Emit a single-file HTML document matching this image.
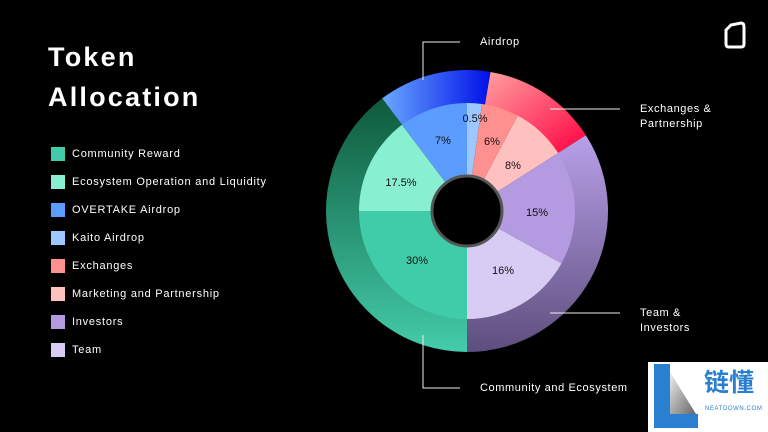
<!DOCTYPE html>
<html><head><meta charset="utf-8"><style>
html,body{margin:0;padding:0;background:#000;}
body{width:768px;height:432px;overflow:hidden;position:relative;font-family:"Liberation Sans",sans-serif;color:#fff;}
.t{position:absolute;left:48px;font-weight:bold;font-size:27px;letter-spacing:2.2px;}
.lg{position:absolute;left:51px;width:14px;height:14px;}
.lt{position:absolute;left:72px;font-size:11px;letter-spacing:0.75px;}
.c{position:absolute;font-size:11px;line-height:15px;letter-spacing:0.6px;}
</style></head><body>
<div class="t" style="top:42px">Token</div>
<div class="t" style="top:82px">Allocation</div>
<div class="lg" style="top:147px;background:#40cca8"></div><div class="lt" style="top:148px">Community Reward</div>
<div class="lg" style="top:175px;background:#88f0d0"></div><div class="lt" style="top:176px">Ecosystem Operation and Liquidity</div>
<div class="lg" style="top:203px;background:#5a9cff"></div><div class="lt" style="top:204px">OVERTAKE Airdrop</div>
<div class="lg" style="top:231px;background:#9cc8ff"></div><div class="lt" style="top:232px">Kaito Airdrop</div>
<div class="lg" style="top:259px;background:#ff9090"></div><div class="lt" style="top:260px">Exchanges</div>
<div class="lg" style="top:287px;background:#ffc0c0"></div><div class="lt" style="top:288px">Marketing and Partnership</div>
<div class="lg" style="top:315px;background:#b49ae0"></div><div class="lt" style="top:316px">Investors</div>
<div class="lg" style="top:343px;background:#d8ccf4"></div><div class="lt" style="top:344px">Team</div>

<svg id="s" width="768" height="432" style="position:absolute;left:0;top:0">
<defs>
<linearGradient id="gb" x1="0" y1="0" x2="1" y2="0"><stop offset="0" stop-color="#6aa8ff"/><stop offset="1" stop-color="#0010e8"/></linearGradient>
<linearGradient id="gr" x1="0" y1="0" x2="1" y2="1"><stop offset="0" stop-color="#ffa0a0"/><stop offset="1" stop-color="#ff0040"/></linearGradient>
<linearGradient id="gp" x1="0" y1="0" x2="0" y2="1"><stop offset="0" stop-color="#b8a0e8"/><stop offset="1" stop-color="#5e4e7e"/></linearGradient>
<linearGradient id="gg" x1="0" y1="0" x2="0" y2="1"><stop offset="0" stop-color="#0e5a3c"/><stop offset="1" stop-color="#44ccaa"/></linearGradient>
<linearGradient id="wm" x1="0" y1="0" x2="1" y2="1"><stop offset="0" stop-color="#eee"/><stop offset="1" stop-color="#666"/></linearGradient>
</defs>
<g id="pie"></g>
<circle cx="467" cy="211" r="35" fill="#000" stroke="#555" stroke-width="3"/>
<g fill="#111" font-size="11" text-anchor="middle" font-family="Liberation Sans,sans-serif">
<text x="475" y="122">0.5%</text>
<text x="492" y="145">6%</text>
<text x="513" y="169">8%</text>
<text x="537" y="216">15%</text>
<text x="503" y="274">16%</text>
<text x="417" y="264">30%</text>
<text x="401" y="186">17.5%</text>
<text x="443" y="144">7%</text>
</g>
<g stroke="#eee" stroke-width="1" fill="none">
<polyline points="423,80 423,42 460,42"/>
<polyline points="550,109 620,109"/>
<polyline points="550,313 620,313"/>
<polyline points="423,335 423,388 460,388"/>
</g>
<path d="M726 30 L731 25 L741 23 Q744 23 744 27 L744 44 Q744 47 741 47 L729 47 Q726 47 726 44 Z" fill="none" stroke="#fff" stroke-width="3"/>
</svg>
<div class="c" style="left:480px;top:35px">Airdrop</div>
<div class="c" style="left:640px;top:102px">Exchanges &amp;<br>Partnership</div>
<div class="c" style="left:640px;top:306px">Team &amp;<br>Investors</div>
<div class="c" style="left:480px;top:381px">Community and Ecosystem</div>

<div style="position:absolute;left:648px;top:362px;width:120px;height:70px;background:#fff;overflow:hidden">
<svg width="60" height="70" style="position:absolute;left:0;top:0">
<polygon points="6,2 22,2 22,52 50,52 50,66 6,66" fill="#2a7fd0"/>
<polygon points="22,10 48,52 22,52" fill="url(#wm)"/>
</svg>
<div style="position:absolute;left:56px;top:4px;font-size:25px;font-weight:bold;color:#2a7fd0;font-family:'Noto Sans CJK SC',sans-serif;line-height:30px">链懂</div>
<div style="position:absolute;left:57px;top:44px;font-size:6px;color:#2a7fd0;letter-spacing:0.6px">NEATDOWN.COM</div>
</div>
<script>
var cx=467,cy=211;
function pt(r,a){a=a*Math.PI/180;return [cx+r*Math.sin(a),cy-r*Math.cos(a)];}
function arc(r0,r1,a0,a1,f){var p1=pt(r1,a0),p2=pt(r1,a1),p3=pt(r0,a1),p4=pt(r0,a0),l=(a1-a0)>180?1:0;
return '<path fill="'+f+'" d="M'+p1+' A'+r1+','+r1+' 0 '+l+' 1 '+p2+' L'+p3+' A'+r0+','+r0+' 0 '+l+' 0 '+p4+'Z"/>';}
var h='';
h+=arc(107,141,-37,9.6,'url(#gb)');
h+=arc(107,141,9.6,57.5,'url(#gr)');
h+=arc(107,141,57.5,180,'url(#gp)');
h+=arc(107,141,180,323,'url(#gg)');
var s=[[0,8,'#9cc8ff'],[8,28,'#ff9090'],[28,57.6,'#ffc0c0'],[57.6,119,'#b49ae0'],[119,180,'#d8ccf4'],[180,270,'#40cca8'],[270,323,'#88f0d0'],[323,360,'#5a9cff']];
s.forEach(function(x){h+=arc(30,108,x[0],x[1],x[2]);});
document.getElementById('pie').innerHTML=h;
</script>
</body></html>
